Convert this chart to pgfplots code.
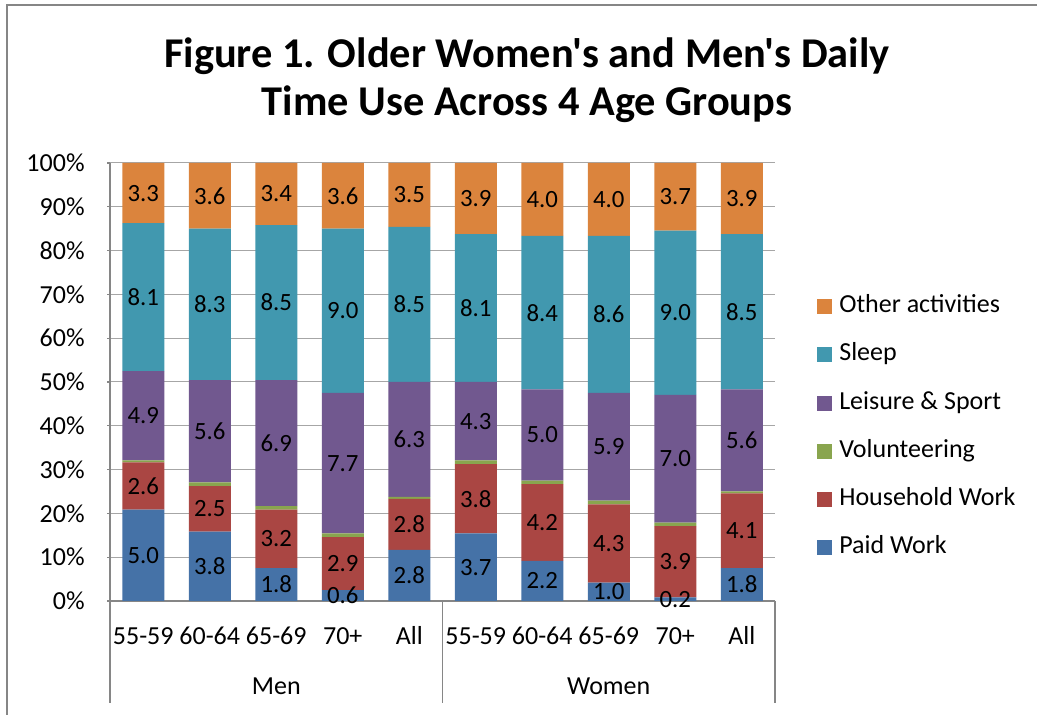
\documentclass[border=0pt]{standalone}
\usepackage{pgfplots}
\usepackage{pgfplotstable}
\pgfplotsset{compat=1.18}
\usepackage{fontspec}
\setmainfont{Carlito}[Ligatures=TeXOff]
\definecolor{cPaid}{HTML}{4572A7}
\definecolor{cHouse}{HTML}{AA4643}
\definecolor{cVol}{HTML}{89A54E}
\definecolor{cLeis}{HTML}{71588F}
\definecolor{cSleep}{HTML}{4198AF}
\definecolor{cOther}{HTML}{DB843D}
\definecolor{cAxis}{HTML}{868686}
\definecolor{cGrid}{HTML}{A6A6A6}

\pgfplotstableread{
x paid house vol leis sleep other
0 5.0 2.6 0.1 4.9 8.1 3.3
1 3.8 2.5 0.2 5.6 8.3 3.6
2 1.8 3.2 0.2 6.9 8.5 3.4
3 0.6 2.9 0.2 7.7 9.0 3.6
4 2.8 2.8 0.1 6.3 8.5 3.5
5 3.7 3.8 0.2 4.3 8.1 3.9
6 2.2 4.2 0.2 5.0 8.4 4.0
7 1.0 4.3 0.2 5.9 8.6 4.0
8 0.2 3.9 0.2 7.0 9.0 3.7
9 1.8 4.1 0.1 5.6 8.5 3.9
}\datatable

\pgfplotsset{
  common/.style={
    at={(55pt,57pt)}, anchor=south west,
    scale only axis, width=332.5pt, height=219pt,
    xmin=-0.5, xmax=9.5, ymin=0, ymax=24,
    ybar stacked, bar width=21pt,
  },
  lab/.style={
    nodes near coords, point meta=explicit symbolic,
    every node near coord/.append style={anchor=center,
      font=\fontsize{12.4}{14}\selectfont, text=black, inner sep=0pt},
  },
  sq/.style={legend image code/.code={\fill[##1] (0pt,-3.75pt) rectangle (7.5pt,3.75pt);}},
}

\begin{document}
\begin{tikzpicture}
\path[use as bounding box] (0,0) rectangle (518.5pt,357.5pt);
\draw[cAxis, line width=1pt] (3.5pt,0) -- (3.5pt,355pt) -- (518.5pt,355pt);

\node[anchor=base, font=\fontsize{21.2}{24}\selectfont\bfseries] at (263.5pt,323.5pt) {Figure 1. Older Women's and Men's Daily};
\node[anchor=base, font=\fontsize{21.2}{24}\selectfont\bfseries] at (263.5pt,299.5pt) {Time Use Across 4 Age Groups};

\begin{axis}[common,
  axis x line*=bottom, axis y line*=left,
  axis line style={cAxis, line width=0.6pt},
  ymajorgrids, grid style={cGrid, line width=0.5pt},
  xtick={0,...,9},
  xticklabels={55-59,60-64,65-69,70+,All,55-59,60-64,65-69,70+,All},
  xtick style={draw=none},
  ytick={0,2.4,4.8,7.2,9.6,12,14.4,16.8,19.2,21.6,24},
  yticklabels={0\%,10\%,20\%,30\%,40\%,50\%,60\%,70\%,80\%,90\%,100\%},
  ytick style={cAxis, line width=0.6pt}, tick align=outside, major tick length=1.5pt,
  ticklabel style={font=\fontsize{13}{15}\selectfont},
  yticklabel style={inner sep=0pt, xshift=-11pt},
  xticklabel style={anchor=base, inner sep=0pt, yshift=-20.1pt},
  clip=false,
  legend cell align=left,
  legend style={at={(1.063,0.700)}, anchor=north west, draw=none, fill=none,
    inner sep=0pt, row sep=12.1pt, column sep=3.5pt,
    font=\fontsize{13}{15}\selectfont,
    nodes={text height=9pt, text depth=3pt, inner sep=0pt}},
  reverse legend,
]
\addplot[fill=cPaid, draw=none, sq] table[x=x, y=paid]{\datatable};
\addlegendentry{Paid Work}
\addplot[fill=cHouse, draw=none, sq] table[x=x, y=house]{\datatable};
\addlegendentry{Household Work}
\addplot[fill=cVol, draw=none, sq] table[x=x, y=vol]{\datatable};
\addlegendentry{Volunteering}
\addplot[fill=cLeis, draw=none, sq] table[x=x, y=leis]{\datatable};
\addlegendentry{Leisure \& Sport}
\addplot[fill=cSleep, draw=none, sq] table[x=x, y=sleep]{\datatable};
\addlegendentry{Sleep}
\addplot[fill=cOther, draw=none, sq] table[x=x, y=other]{\datatable};
\addlegendentry{Other activities}

\draw[cAxis, line width=0.6pt] (axis cs:-0.5,0) -- ([yshift=-51pt]axis cs:-0.5,0);
\draw[cAxis, line width=0.6pt] (axis cs:4.5,0) -- ([yshift=-51pt]axis cs:4.5,0);
\draw[cAxis, line width=0.6pt] (axis cs:9.5,0) -- ([yshift=-51pt]axis cs:9.5,0);
\node[anchor=base, font=\fontsize{13}{15}\selectfont] at ([yshift=-47pt]axis cs:2,0) {Men};
\node[anchor=base, font=\fontsize{13}{15}\selectfont] at ([yshift=-47pt]axis cs:7,0) {Women};
\end{axis}

\begin{axis}[common, hide axis, clip=false]
\addplot[draw=none, fill=none, lab] table[x=x, y=paid, meta=paid]{\datatable};
\addplot[draw=none, fill=none, lab] table[x=x, y=house, meta=house]{\datatable};
\addplot[draw=none, fill=none] table[x=x, y=vol]{\datatable};
\addplot[draw=none, fill=none, lab] table[x=x, y=leis, meta=leis]{\datatable};
\addplot[draw=none, fill=none, lab] table[x=x, y=sleep, meta=sleep]{\datatable};
\addplot[draw=none, fill=none, lab] table[x=x, y=other, meta=other]{\datatable};
\end{axis}
\end{tikzpicture}
\end{document}
